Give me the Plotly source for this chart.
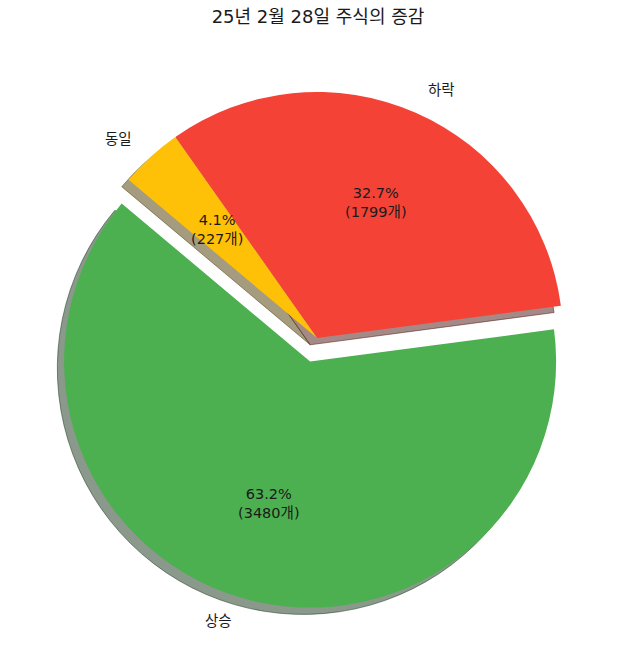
import math
import plotly.graph_objects as go

# Stock movement counts for the day
labels = ["상승", "하락", "동일"]
counts = [3480, 1799, 227]
colors = ["#4CAF50", "#F44336", "#FFC107"]
explode = [0.1, 0.0, 0.0]
title_text = "25년 2월 28일 주식의 증감"

# Canvas and pie geometry (pixels)
W, H = 636, 657
START_ANGLE = 140.0   # first wedge starts here, degrees CCW from +x
CX, CY = 317.0, 338.0  # pie centre, from top-left
R = 246.0              # wedge radius
SHADOW = 6.8           # shadow offset (left and down)
FONT = "DejaVu Sans, Noto Sans CJK KR"
TEXT_COLOR = "#1a1a1a"
LABEL_SIZE = 14.5
TITLE_SIZE = 18

total = sum(counts)
shares = [c / total for c in counts]
half = R * (1 + max(explode))


def domain(dx=0.0, dy=0.0):
    return dict(
        x=[(CX + dx - half) / W, (CX + dx + half) / W],
        y=[1 - (CY + dy + half) / H, 1 - (CY + dy - half) / H],
    )


def shade(hex_color, factor=0.3, alpha=0.5):
    h = hex_color.lstrip("#")
    r, g, b = (int(h[i:i + 2], 16) for i in (0, 2, 4))
    return f"rgba({int(r * factor)},{int(g * factor)},{int(b * factor)},{alpha})"


# plotly counts rotation clockwise from 12 o'clock; in CCW mode the first
# wedge ends (CCW) on the rotation line
rotation = (90 - START_ANGLE - 360 * shares[0]) % 360

common = dict(
    values=counts,
    labels=labels,
    sort=False,
    direction="counterclockwise",
    rotation=rotation,
    pull=explode,
    textinfo="none",
    showlegend=False,
)

fig = go.Figure()
# drop shadow
fig.add_trace(go.Pie(
    domain=domain(-SHADOW, SHADOW),
    marker=dict(colors=[shade(c) for c in colors],
                line=dict(color=[shade(c) for c in colors], width=1)),
    hoverinfo="skip",
    **common,
))
# wedges
fig.add_trace(go.Pie(
    domain=domain(),
    marker=dict(colors=colors, line=dict(width=0)),
    hoverinfo="label+value+percent",
    **common,
))

annotations = []
acc = 0.0
for lab, cnt, sh, ex in zip(labels, counts, shares, explode):
    mid = math.radians(START_ANGLE + 360 * (acc + sh / 2))
    acc += sh
    c, s = math.cos(mid), math.sin(mid)
    ox, oy = CX + ex * R * c, CY - ex * R * s
    # outer label
    lx, ly = ox + 1.1 * R * c, oy - 1.1 * R * s
    annotations.append(dict(
        x=lx / W, y=1 - ly / H, xref="paper", yref="paper",
        text=lab, showarrow=False,
        xanchor="left" if c > 0 else "right", yanchor="middle",
        font=dict(family=FONT, size=LABEL_SIZE, color=TEXT_COLOR),
    ))
    # percentage label
    px, py = ox + 0.6 * R * c, oy - 0.6 * R * s
    annotations.append(dict(
        x=px / W, y=1 - py / H, xref="paper", yref="paper",
        text=f"{sh * 100:.1f}%<br>({cnt}개)", showarrow=False,
        xanchor="center", yanchor="middle", align="center",
        font=dict(family=FONT, size=LABEL_SIZE, color=TEXT_COLOR),
    ))

fig.update_layout(
    width=W, height=H,
    margin=dict(l=0, r=0, t=0, b=0),
    paper_bgcolor="white", plot_bgcolor="white",
    title=dict(text=title_text, x=0.5, xanchor="center",
               y=1 - 17 / H, yanchor="middle",
               font=dict(family=FONT, size=TITLE_SIZE, color=TEXT_COLOR)),
    annotations=annotations,
)

fig.write_html("out.html")
